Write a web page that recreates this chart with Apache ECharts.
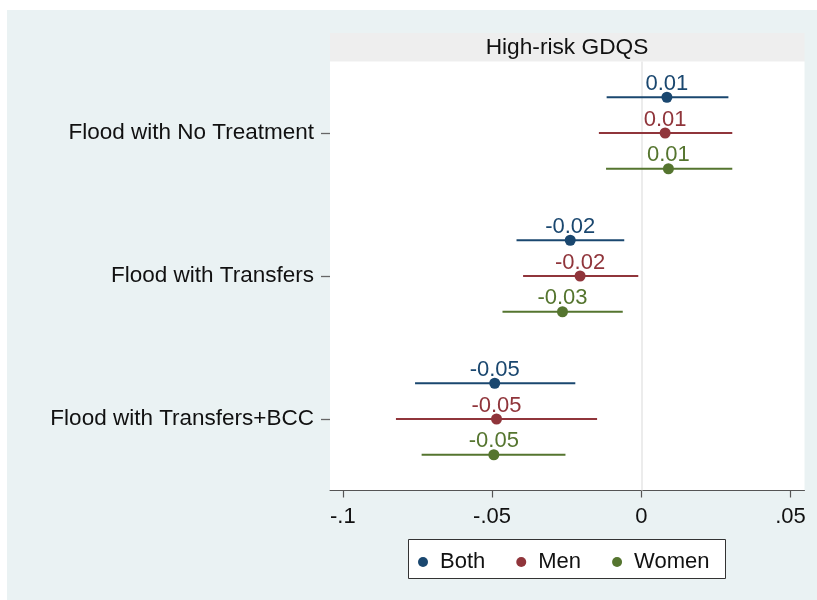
<!DOCTYPE html>
<html>
<head>
<meta charset="utf-8">
<title>High-risk GDQS</title>
<script src="https://cdn.jsdelivr.net/npm/echarts@6/dist/echarts.min.js"></script>
<style>
  html, body { margin: 0; padding: 0; background: #fff; }
  #chart { width: 817px; height: 600px; }
</style>
</head>
<body>
<div id="chart"></div>
<script>
// Treatment arms (top to bottom)
const categories = ['Flood with No Treatment', 'Flood with Transfers', 'Flood with Transfers+BCC'];

// Point estimates and 95% confidence bounds, one array per sample
const bothEst   = [0.0086, -0.0238, -0.0491];
const bothLow   = [-0.0116, -0.0418, -0.0758];
const bothHigh  = [0.0292, -0.0057, -0.0221];

const menEst    = [0.0080, -0.0205, -0.0485];
const menLow    = [-0.0142, -0.0396, -0.0822];
const menHigh   = [0.0305, -0.0010, -0.0148];

const womenEst  = [0.0091, -0.0264, -0.0494];
const womenLow  = [-0.0118, -0.0465, -0.0736];
const womenHigh = [0.0305, -0.0062, -0.0254];

// x-axis ticks and their labels
const xTickValues = [-0.1, -0.05, 0, 0.05];
const xTickLabels = ['-.1', '-.05', '0', '.05'];

const panelTitle = 'High-risk GDQS';

const FONT = '"Liberation Sans", Arial, sans-serif';
const GRID = { left: 330, top: 61.5, width: 474.5, height: 429 };

const samples = [
  { name: 'Both',  color: '#1a476f', est: bothEst,  low: bothLow,  high: bothHigh,  shift: -0.25 },
  { name: 'Men',   color: '#90353b', est: menEst,   low: menLow,   high: menHigh,   shift: 0 },
  { name: 'Women', color: '#55752f', est: womenEst, low: womenLow, high: womenHigh, shift: 0.25 }
];

const series = [];
samples.forEach((s, si) => {
  // horizontal confidence-interval bars
  const ciSeries = {
    type: 'custom',
    name: s.name + ' CI',
    xAxisIndex: 0,
    yAxisIndex: 1,
    z: 2,
    silent: true,
    data: categories.map((c, i) => [s.low[i], s.high[i], i + 1 + s.shift]),
    encode: { x: [0, 1], y: 2 },
    renderItem: (params, api) => {
      const a = api.coord([api.value(0), api.value(2)]);
      const b = api.coord([api.value(1), api.value(2)]);
      return {
        type: 'line',
        shape: { x1: a[0], y1: a[1], x2: b[0], y2: b[1] },
        style: { stroke: s.color, lineWidth: 2 }
      };
    }
  };
  if (si === 0) {
    // reference line at zero
    ciSeries.markLine = {
      silent: true,
      symbol: 'none',
      label: { show: false },
      lineStyle: { color: '#e6e6e6', width: 1.5, type: 'solid' },
      data: [{ xAxis: 0 }],
      z: 1
    };
  }
  series.push(ciSeries);

  // point estimates with their rounded values above
  series.push({
    type: 'scatter',
    name: s.name,
    xAxisIndex: 0,
    yAxisIndex: 1,
    z: 3,
    symbol: 'circle',
    symbolSize: 11,
    itemStyle: { color: s.color, opacity: 1 },
    data: categories.map((c, i) => [s.est[i], i + 1 + s.shift]),
    label: {
      show: true,
      position: 'top',
      distance: -3,
      color: s.color,
      fontFamily: FONT,
      fontSize: 22,
      formatter: p => p.value[0].toFixed(2)
    },
    emphasis: { disabled: true }
  });
});

const chart = echarts.init(document.getElementById('chart'), null, { renderer: 'canvas' });

chart.setOption({
  backgroundColor: '#ffffff',
  animation: false,
  textStyle: { fontFamily: FONT },
  graphic: [
    { type: 'rect', z: -10, shape: { x: 7, y: 10, width: 810, height: 590 }, style: { fill: '#eaf2f3' } },
    { type: 'rect', z: -5, shape: { x: 330, y: 33, width: 474.5, height: 29 }, style: { fill: '#eeeeee' } },
    {
      type: 'text', z: 5, x: 567, y: 47.5,
      style: { text: panelTitle, fill: '#111', font: '22.7px ' + FONT, align: 'center', verticalAlign: 'middle' }
    },
    {
      type: 'rect', z: 5,
      shape: { x: 408.5, y: 539.5, width: 317, height: 39 },
      style: { fill: '#ffffff', stroke: '#333333', lineWidth: 1 }
    }
  ],
  grid: Object.assign({ show: true, backgroundColor: '#ffffff', borderWidth: 0, containLabel: false }, GRID),
  xAxis: {
    type: 'value',
    min: -0.1043,
    max: 0.0547,
    splitLine: { show: false },
    axisLine: { show: true, onZero: false, lineStyle: { color: '#555', width: 1 } },
    axisTick: { show: true, length: 7, lineStyle: { color: '#555', width: 1.2 }, customValues: xTickValues },
    axisLabel: {
      color: '#111',
      fontSize: 22,
      margin: 15,
      fontFamily: FONT,
      customValues: xTickValues,
      formatter: v => {
        const k = xTickValues.findIndex(t => Math.abs(t - v) < 1e-9);
        return k >= 0 ? xTickLabels[k] : '';
      }
    }
  },
  yAxis: [
    {
      type: 'category',
      data: categories,
      inverse: true,
      boundaryGap: true,
      position: 'left',
      axisLine: { show: false, onZero: false },
      axisTick: { show: true, alignWithLabel: true, length: 9, lineStyle: { color: '#666', width: 1.3 } },
      axisLabel: { color: '#111', fontSize: 22.5, margin: 16, fontFamily: FONT },
      splitLine: { show: false }
    },
    {
      type: 'value',
      min: 0.5,
      max: 3.5,
      inverse: true,
      show: false,
      axisLine: { onZero: false },
      splitLine: { show: false }
    }
  ],
  legend: {
    data: samples.map(s => s.name),
    left: 413,
    top: 546,
    icon: 'circle',
    itemWidth: 10,
    itemHeight: 10,
    itemGap: 31,
    z: 6,
    textStyle: { color: '#111', fontSize: 22, fontFamily: FONT, padding: [0, 0, 0, 7] }
  },
  series: series
});
</script>
</body>
</html>
